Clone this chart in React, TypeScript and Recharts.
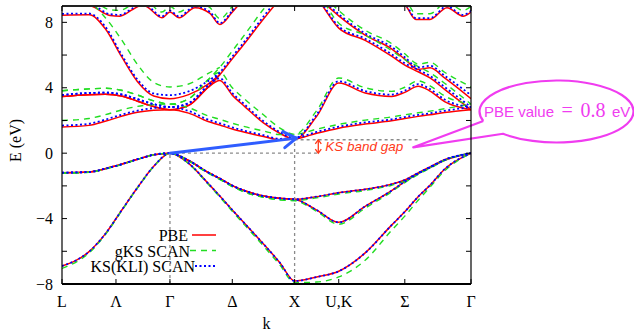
import React from 'react';
import { LineChart, Line, XAxis, YAxis, ReferenceLine, Legend } from 'recharts';

const SERIF = "'Liberation Serif', 'Times New Roman', Times, serif";
const SANS = "'Liberation Sans', Arial, Helvetica, sans-serif";

const RED = '#ff0000';
const GREEN = '#22dd22';
const BLUE = '#0000ff';
const GRAY = '#8a8a8a';
const ARROW_BLUE = '#2f5dff';
const GAP_RED = '#ff3a1a';
const MAGENTA = '#f03cf0';

// k-path ticks: L - Γ - X - U,K - Γ
const kTicks = [0, 0.433, 0.866, 1.366, 1.866, 2.22, 2.75, 3.281];
const kTickLabels = ['L', 'Λ', 'Γ', 'Δ', 'X', 'U,K', 'Σ', 'Γ'];
const eTicks = [-8, -6, -4, -2, 0, 2, 4, 6, 8];
const eTickLabels = ['−8', '', '−4', '', '0', '', '4', '', '8'];

// shared k sampling for bands 2-8
const kPath = [0, 0.217, 0.346, 0.476, 0.606, 0.736, 0.866, 1.016, 1.166, 1.266, 1.366, 1.466, 1.616, 1.746, 1.866, 2.043, 2.22, 2.432, 2.644, 2.75, 2.857, 2.952, 3.069, 3.281];

// PBE
const pbeBand2 = [-6.9, -6.02, -4.95, -3.52, -2.1, -0.8, 0, -0.62, -1.8, -2.62, -3.47, -4.3, -5.55, -6.68, -7.82, -7.57, -7.22, -6.1, -4.4, -3.58, -2.66, -1.96, -0.98, 0];
const pbeBand3 = [-1.19, -1.15, -0.95, -0.68, -0.37, -0.1, 0, -0.45, -1.15, -1.55, -1.98, -2.3, -2.62, -2.76, -2.82, -3.48, -4.23, -3.25, -2.29, -1.74, -1.25, -0.88, -0.43, 0];
const pbeBand4 = [-1.19, -1.15, -0.95, -0.68, -0.37, -0.1, 0, -0.45, -1.15, -1.55, -1.98, -2.3, -2.62, -2.76, -2.82, -2.66, -2.42, -2.21, -1.9, -1.64, -1.2, -0.84, -0.4, 0];
const pbeBand5 = [1.6, 1.7, 1.95, 2.25, 2.5, 2.62, 2.66, 2.45, 1.95, 1.72, 1.48, 1.28, 1.02, 0.82, 0.86, 1.22, 1.53, 1.78, 1.98, 2.12, 2.25, 2.35, 2.49, 2.66];
const pbeBand6 = [3.47, 3.58, 3.6, 3.5, 3.18, 2.85, 2.66, 2.92, 3.99, 4.45, 3.55, 2.85, 1.85, 1.22, 0.86, 2.25, 4.29, 3.68, 3.47, 3.72, 4.1, 3.8, 3.15, 2.66];
const pbeBand7 = [3.47, 3.58, 3.6, 3.5, 3.18, 2.85, 2.66, 2.92, 3.99, 4.8, 5.77, 6.72, 8.2, 9.4, 10.3, 9.45, 7.65, 6.9, 5.93, 5.39, 4.98, 4.6, 3.9, 2.66];
// band 8 is degenerate with band 7 along part of Δ (not repeated there)
const pbeBand8 = [8.44, 8.46, 7.62, 5.93, 4.37, 3.5, 3.33, 3.58, 4.19, 4.8, null, null, null, null, null, 9.6, 8.4, 7.22, 6.38, 5.75, 5.12, 5.22, 4.6, 3.33];

// KS(KLI) SCAN
const kliBand2 = [-6.9, -6.02, -4.95, -3.52, -2.1, -0.8, 0, -0.62, -1.8, -2.62, -3.47, -4.3, -5.55, -6.68, -7.82, -7.57, -7.22, -6.1, -4.4, -3.58, -2.66, -1.96, -0.98, 0];
const kliBand3 = [-1.19, -1.15, -0.95, -0.68, -0.37, -0.1, 0, -0.45, -1.15, -1.55, -1.98, -2.3, -2.62, -2.76, -2.82, -3.48, -4.23, -3.25, -2.29, -1.74, -1.25, -0.88, -0.43, 0];
const kliBand4 = [-1.19, -1.15, -0.95, -0.68, -0.37, -0.1, 0, -0.45, -1.15, -1.55, -1.98, -2.3, -2.62, -2.76, -2.82, -2.66, -2.42, -2.21, -1.9, -1.64, -1.2, -0.84, -0.4, 0];
const kliBand5 = [1.69, 1.8, 2.05, 2.35, 2.6, 2.76, 2.82, 2.58, 2.07, 1.83, 1.58, 1.37, 1.1, 0.88, 0.92, 1.3, 1.62, 1.88, 2.07, 2.21, 2.34, 2.44, 2.59, 2.82];
const kliBand6 = [3.56, 3.68, 3.7, 3.6, 3.3, 3.0, 2.82, 3.06, 4.1, 4.58, 3.68, 2.97, 1.96, 1.3, 0.92, 2.36, 4.4, 3.8, 3.58, 3.83, 4.22, 3.92, 3.28, 2.82];
const kliBand7 = [3.56, 3.68, 3.7, 3.6, 3.3, 3.0, 2.82, 3.06, 4.1, 4.92, 5.9, 6.85, 8.35, 9.55, 10.4, 9.55, 7.75, 7.0, 6.05, 5.5, 5.1, 4.72, 4.05, 2.82];
const kliBand8 = [8.52, 8.54, 7.75, 6.05, 4.5, 3.65, 3.55, 3.78, 4.38, 4.92, null, null, null, null, null, 9.75, 8.5, 7.32, 6.5, 5.87, 5.24, 5.34, 4.74, 3.55];

// gKS SCAN
const gksBand2 = [-7.05, -6.1, -5.0, -3.55, -2.12, -0.82, 0, -0.64, -1.84, -2.68, -3.55, -4.4, -5.67, -6.82, -7.92, -7.88, -7.57, -6.55, -4.72, -3.85, -2.88, -2.08, -1.08, 0];
const gksBand3 = [-1.22, -1.17, -0.97, -0.7, -0.38, -0.1, 0, -0.47, -1.19, -1.6, -2.04, -2.38, -2.7, -2.85, -2.9, -3.56, -4.35, -3.36, -2.36, -1.8, -1.3, -0.92, -0.45, 0];
const gksBand4 = [-1.22, -1.17, -0.97, -0.7, -0.38, -0.1, 0, -0.47, -1.19, -1.6, -2.04, -2.38, -2.7, -2.85, -2.9, -2.73, -2.5, -2.28, -1.96, -1.7, -1.25, -0.88, -0.42, 0];
const gksBand5 = [2.0, 2.12, 2.35, 2.64, 2.86, 2.97, 3.0, 2.78, 2.3, 2.07, 1.83, 1.62, 1.36, 1.14, 1.15, 1.47, 1.76, 2.02, 2.22, 2.35, 2.47, 2.57, 2.72, 3.0];
const gksBand6 = [3.82, 3.93, 3.97, 3.85, 3.55, 3.2, 3.0, 3.32, 4.45, 4.95, 4.0, 3.3, 2.35, 1.55, 1.15, 2.6, 4.6, 4.0, 3.78, 4.03, 4.42, 4.12, 3.5, 3.0];
const gksBand7 = [3.82, 3.93, 3.97, 3.85, 3.55, 3.2, 3.0, 3.32, 4.45, 5.25, 6.25, 7.25, 8.8, 9.9, 10.6, 9.85, 7.95, 7.22, 6.27, 5.72, 5.3, 4.92, 4.28, 3.0];
const gksBand8 = [9.2, 9.15, 8.3, 6.95, 5.42, 4.33, 4.05, 4.23, 4.85, 5.25, null, null, null, null, null, 10.1, 8.72, 7.52, 6.7, 6.08, 5.45, 5.55, 4.95, 4.05];

// band 9 (top of the window) has its own sampling
const k9 = [0, 0.265, 0.385, 0.465, 0.57, 0.642, 0.682, 0.802, 0.866, 0.939, 1.067, 1.187, 1.267, 1.364, 1.46, 1.866, 2.22, 2.663, 2.759, 2.839, 2.952, 3.088, 3.217, 3.281];
const pbeBand9 = [9.8, 8.9, 8.42, 8.38, 8.8, 9.05, 8.95, 8.28, 8.63, 8.28, 8.9, 8.55, 7.87, 8.6, 9.4, 10.5, 10.0, 9.6, 9.0, 8.18, 8.18, 8.9, 8.38, 8.63];
const kliBand9 = [9.9, 9.0, 8.5, 8.46, 8.88, 9.13, 9.03, 8.36, 8.71, 8.36, 8.98, 8.63, 7.95, 8.68, 9.5, 10.6, 10.1, 9.7, 9.08, 8.26, 8.26, 8.98, 8.46, 8.71];
const gksBand9 = [10.1, 9.25, 8.77, 8.73, 9.15, 9.4, 9.3, 8.63, 8.98, 8.63, 9.25, 8.9, 8.22, 8.95, 9.75, 10.8, 10.3, 9.95, 9.35, 8.53, 8.53, 9.25, 8.73, 8.98];

// annotation anchors (data coordinates)
const gammaK = 0.866;
const xPointK = 1.866;
const gapE = 0.82;
const gapArrowK = 2.056;
const arrowTip = { x: 1.88, y: 0.92 };
const calloutTip = { x: 2.818, y: 0.36 };
const calloutCenter = { x: 3.967, y: 2.55 };

const legendItems = [
  { label: 'PBE', color: RED, dash: undefined as string | undefined, width: 1.5, textEnd: 188, x1: 192 },
  { label: 'gKS SCAN', color: GREEN, dash: '6 5', width: 1.4, textEnd: 190, x1: 190 },
  { label: 'KS(KLI) SCAN', color: BLUE, dash: '2 2.5', width: 1.8, textEnd: 195, x1: 195 },
];

const toPts = (ks: number[], es: (number | null)[]) => ks.map((k, i) => ({ k, e: es[i] }));

const pbeBands = [pbeBand2, pbeBand3, pbeBand4, pbeBand5, pbeBand6, pbeBand7, pbeBand8];
const gksBands = [gksBand2, gksBand3, gksBand4, gksBand5, gksBand6, gksBand7, gksBand8];
const kliBands = [kliBand2, kliBand3, kliBand4, kliBand5, kliBand6, kliBand7, kliBand8];

const BottomTick = (props: any) => {
  const { x, y, index } = props;
  return (
    <g>
      <line x1={x} y1={y} x2={x} y2={y - 5} stroke="#000" strokeWidth={1} />
      <text x={x} y={y + 23} textAnchor="middle" fontFamily={SERIF} fontSize={16} fill="#000">
        {kTickLabels[index]}
      </text>
    </g>
  );
};
const TopTick = (props: any) => {
  const { x, y } = props;
  return <line x1={x} y1={y} x2={x} y2={y + 5} stroke="#000" strokeWidth={1} />;
};
const LeftTick = (props: any) => {
  const { x, y, index } = props;
  return (
    <g>
      <line x1={x} y1={y} x2={x + 5} y2={y} stroke="#000" strokeWidth={1} />
      <text x={x - 9} y={y + 5.5} textAnchor="end" fontFamily={SERIF} fontSize={16} fill="#000">
        {eTickLabels[index]}
      </text>
    </g>
  );
};
const RightTick = (props: any) => {
  const { x, y } = props;
  return <line x1={x} y1={y} x2={x - 5} y2={y} stroke="#000" strokeWidth={1} />;
};

const BlueArrow = (p: any) => {
  const { x1, y1, x2, y2 } = p;
  const ang = Math.atan2(y2 - y1, x2 - x1);
  const L = 15;
  const a = Math.PI / 5.5;
  const bx1 = x2 - L * Math.cos(ang - a);
  const by1 = y2 - L * Math.sin(ang - a);
  const bx2 = x2 - L * Math.cos(ang + a);
  const by2 = y2 - L * Math.sin(ang + a);
  return (
    <g stroke={ARROW_BLUE} strokeWidth={3} strokeLinecap="round" strokeLinejoin="round" fill="none">
      <line x1={x1} y1={y1} x2={x2} y2={y2} />
      <polyline points={`${bx1},${by1} ${x2},${y2} ${bx2},${by2}`} />
    </g>
  );
};

const GapArrow = (p: any) => {
  const { x1, y1, x2, y2 } = p;
  const top = Math.min(y1, y2);
  const bot = Math.max(y1, y2);
  return (
    <g>
      <line x1={x1} y1={top} x2={x2} y2={bot} stroke={GAP_RED} strokeWidth={1.3} />
      <polyline points={`${x1 - 3},${top + 4} ${x1},${top} ${x1 + 3},${top + 4}`} stroke={GAP_RED} strokeWidth={1.3} fill="none" />
      <polyline points={`${x1 - 3},${bot - 4} ${x1},${bot} ${x1 + 3},${bot - 4}`} stroke={GAP_RED} strokeWidth={1.3} fill="none" />
      <text x={x1 + 7} y={(top + bot) / 2 + 4.5} fontFamily={SANS} fontStyle="italic" fontSize={13.5} fill={GAP_RED}>
        KS band gap
      </text>
    </g>
  );
};

const Callout = (p: any) => {
  const { x1, y1, x2, y2 } = p;
  const rx = 77;
  const ry = 31;
  const t1 = (162 * Math.PI) / 180;
  const t2 = (134 * Math.PI) / 180;
  const a1x = x2 + rx * Math.cos(t1);
  const a1y = y2 + ry * Math.sin(t1);
  const a2x = x2 + rx * Math.cos(t2);
  const a2y = y2 + ry * Math.sin(t2);
  const d = `M ${a1x} ${a1y} L ${x1} ${y1} L ${a2x} ${a2y} A ${rx} ${ry} 0 1 0 ${a1x} ${a1y}`;
  return (
    <g>
      <path d={d} stroke={MAGENTA} strokeWidth={2.2} fill="none" strokeLinejoin="round" />
      <text x={x2 - 72.5} y={y2 + 6} fontFamily={SANS} fontSize={15} fill={MAGENTA}>PBE value</text>
      <text x={x2 + 5} y={y2 + 6} fontFamily={SERIF} fontSize={20} fill={MAGENTA}>=</text>
      <text x={x2 + 24} y={y2 + 6} fontFamily={SERIF} fontSize={20} fill={MAGENTA}>0.8</text>
      <text x={x2 + 55.5} y={y2 + 6} fontFamily={SANS} fontSize={15} fill={MAGENTA}>eV</text>
    </g>
  );
};

const LegendBox = () => (
  <svg width={634} height={331} style={{ position: 'absolute', left: 0, top: 0 }}>
    {legendItems.map((it, i) => {
      const base = 241 + i * 15.5;
      return (
        <g key={it.label}>
          <text x={it.textEnd} y={base} textAnchor="end" fontFamily={SERIF} fontSize={16} fill="#000">
            {it.label}
          </text>
          <line x1={it.x1} y1={base - 6} x2={216} y2={base - 6} stroke={it.color} strokeWidth={it.width} strokeDasharray={it.dash} />
        </g>
      );
    })}
  </svg>
);

const yLabel = (props: any) => {
  const vb = props.viewBox || { x: 0, y: 6, width: 62, height: 278 };
  const cx = vb.x + 21;
  const cy = vb.y + vb.height / 2 - 4.5;
  return (
    <text x={cx} y={cy} transform={`rotate(-90, ${cx}, ${cy})`} textAnchor="middle" fontFamily={SERIF} fontSize={16} fill="#000">
      E (eV)
    </text>
  );
};
const xLabel = (props: any) => {
  const vb = props.viewBox || { x: 62, y: 284, width: 409, height: 47 };
  return (
    <text x={vb.x + vb.width / 2} y={vb.y + 45} textAnchor="middle" fontFamily={SERIF} fontSize={16} fill="#000">
      k
    </text>
  );
};

export default function App() {
  return (
    <div style={{ position: 'absolute', left: 0, top: 0, width: 634, height: 331, background: '#fff' }}>
      <LineChart width={634} height={331} margin={{ top: 5, right: 162, bottom: 0, left: 0 }}>
        <XAxis
          dataKey="k"
          type="number"
          domain={[0, 3.281]}
          allowDataOverflow
          ticks={kTicks}
          interval={0}
          tickSize={0}
          tickMargin={0}
          tickLine={false}
          tick={(p: any) => <BottomTick {...p} />}
          height={47}
          axisLine={{ stroke: '#000', strokeWidth: 2 }}
          label={xLabel}
        />
        <XAxis
          xAxisId="top"
          orientation="top"
          dataKey="k"
          type="number"
          domain={[0, 3.281]}
          allowDataOverflow
          ticks={kTicks}
          interval={0}
          tickSize={0}
          tickMargin={0}
          tickLine={false}
          tick={(p: any) => <TopTick {...p} />}
          height={1}
          axisLine={{ stroke: '#222', strokeWidth: 2 }}
        />
        <YAxis
          type="number"
          domain={[-8, 9]}
          allowDataOverflow
          ticks={eTicks}
          interval={0}
          tickSize={0}
          tickMargin={0}
          tickLine={false}
          tick={(p: any) => <LeftTick {...p} />}
          width={62}
          axisLine={{ stroke: '#000', strokeWidth: 1.2 }}
          label={yLabel}
        />
        <YAxis
          yAxisId="right"
          orientation="right"
          type="number"
          domain={[-8, 9]}
          allowDataOverflow
          ticks={eTicks}
          interval={0}
          tickSize={0}
          tickMargin={0}
          tickLine={false}
          tick={(p: any) => <RightTick {...p} />}
          width={1}
          axisLine={{ stroke: '#000', strokeWidth: 1.2 }}
        />

        {pbeBands.map((b, i) => (
          <Line key={'pbe' + i} data={toPts(kPath, b)} dataKey="e" type="monotone" stroke={RED} strokeWidth={1.5} dot={false} activeDot={false} isAnimationActive={false} />
        ))}
        <Line key="pbe9" data={toPts(k9, pbeBand9)} dataKey="e" type="monotone" stroke={RED} strokeWidth={1.5} dot={false} activeDot={false} isAnimationActive={false} />

        {gksBands.map((b, i) => (
          <Line key={'gks' + i} data={toPts(kPath, b)} dataKey="e" type="monotone" stroke={GREEN} strokeWidth={1.4} strokeDasharray="6 5" dot={false} activeDot={false} isAnimationActive={false} />
        ))}
        <Line key="gks9" data={toPts(k9, gksBand9)} dataKey="e" type="monotone" stroke={GREEN} strokeWidth={1.4} strokeDasharray="6 5" dot={false} activeDot={false} isAnimationActive={false} />

        {kliBands.map((b, i) => (
          <Line key={'kli' + i} data={toPts(kPath, b)} dataKey="e" type="monotone" stroke={BLUE} strokeWidth={1.8} strokeDasharray="2 2.5" dot={false} activeDot={false} isAnimationActive={false} />
        ))}
        <Line key="kli9" data={toPts(k9, kliBand9)} dataKey="e" type="monotone" stroke={BLUE} strokeWidth={1.8} strokeDasharray="2 2.5" dot={false} activeDot={false} isAnimationActive={false} />

        <ReferenceLine segment={[{ x: gammaK, y: -8 }, { x: gammaK, y: 0 }]} stroke={GRAY} strokeWidth={1.3} strokeDasharray="3 3" />
        <ReferenceLine segment={[{ x: gammaK, y: 0 }, { x: 2.07, y: 0 }]} stroke={GRAY} strokeWidth={1.3} strokeDasharray="3 3" />
        <ReferenceLine segment={[{ x: xPointK, y: -8 }, { x: xPointK, y: gapE }]} stroke={GRAY} strokeWidth={1.3} strokeDasharray="3 3" />
        <ReferenceLine segment={[{ x: xPointK, y: gapE }, { x: 2.87, y: gapE }]} stroke={GRAY} strokeWidth={1.3} strokeDasharray="3 3" />
        <ReferenceLine segment={[{ x: gammaK, y: 0 }, arrowTip]} shape={(p: any) => <BlueArrow {...p} />} />
        <ReferenceLine segment={[{ x: gapArrowK, y: 0 }, { x: gapArrowK, y: gapE }]} shape={(p: any) => <GapArrow {...p} />} />
        <ReferenceLine segment={[calloutTip, calloutCenter]} ifOverflow="visible" shape={(p: any) => <Callout {...p} />} />

        <Legend
          layout="vertical"
          align="center"
          verticalAlign="middle"
          wrapperStyle={{ position: 'absolute', left: 0, top: 0, width: 634, height: 331, pointerEvents: 'none' }}
          content={() => <LegendBox />}
        />
      </LineChart>
    </div>
  );
}
